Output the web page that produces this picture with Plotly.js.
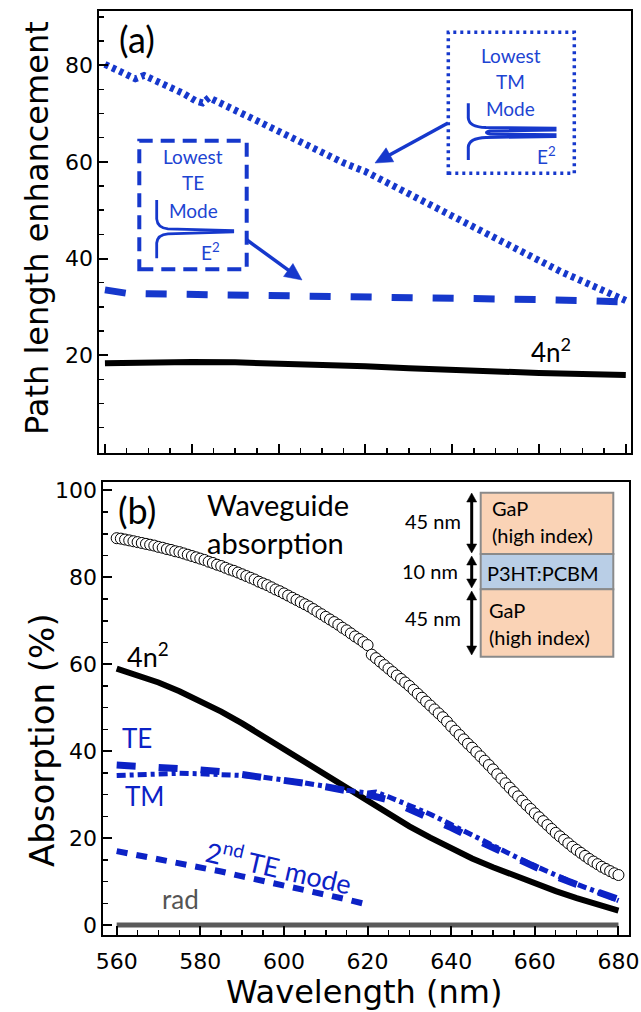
<!DOCTYPE html>
<html><head><meta charset="utf-8">
<script src="https://cdn.plot.ly/plotly-3.0.1.min.js"></script>
<style>html,body{margin:0;padding:0;background:#fff}#g{width:641px;height:1012px}</style>
</head><body><div id="g"></div>
<script>
// ---------- Panel (a): path length enhancement ----------
const wlA_4n2 = [560,570,580,590,600,610,620,630,640,650,660,670,680];
const pe_4n2  = [18.3,18.5,18.6,18.5,18.3,18.0,17.7,17.3,16.9,16.6,16.3,16.1,15.9];

const wlA_TE = [560,562,565,570,580,590,600,610,620,630,640,650,660,670,680];
const pe_TE  = [33.5,33.3,32.8,32.7,32.6,32.4,32.2,32.0,31.9,31.8,31.7,31.6,31.5,31.3,31.0];

const wlA_TM = [560,562,565,567,569,572,575,578,581,582.5,584,587,590,595,600,605,610,615,620,625,630,635,640,645,650,655,660,665,670,675,680];
const pe_TM  = [80.2,79.4,78.0,77.2,77.9,76.7,75.5,74.2,72.6,72.2,73.3,72.0,70.7,68.3,66.0,63.8,61.8,59.8,58.0,55.7,53.3,51.0,48.6,46.2,43.8,41.6,39.4,37.3,35.3,33.4,31.3];

const yTicksA = [20,40,60,80];

// ---------- Panel (b): absorption ----------
const wlB_wg = [560,561,562,563,564,565,566,567,568,569,570,571,572,573,574,575,576,577,578,579,
  580,581,582,583,584,585,586,587,588,589,590,591,592,593,594,595,596,597,598,599,
  600,601,602,603,604,605,606,607,608,609,610,611,612,613,614,615,616,617,618,619,
  620,621,622,623,624,625,626,627,628,629,630,631,632,633,634,635,636,637,638,639,
  640,641,642,643,644,645,646,647,648,649,650,651,652,653,654,655,656,657,658,659,
  660,661,662,663,664,665,666,667,668,669,670,671,672,673,674,675,676,677,678,679,680];
const abs_wg = [89.0,88.9,88.7,88.5,88.3,88.1,87.9,87.7,87.5,87.3,87.0,86.8,86.5,86.3,86.0,85.8,85.5,85.2,84.9,84.6,
  84.3,84.0,83.6,83.3,82.9,82.6,82.2,81.8,81.5,81.1,80.7,80.3,79.9,79.5,79.0,78.6,78.2,77.7,77.2,76.8,
  76.3,75.8,75.3,74.8,74.3,73.8,73.3,72.7,72.1,71.5,70.9,70.3,69.7,69.1,68.4,67.8,67.1,66.4,65.8,65.1,
  64.4,62.2,61.4,60.6,59.8,59.0,58.2,57.4,56.6,55.8,55.0,54.1,53.2,52.3,51.4,50.5,49.6,48.7,47.8,46.8,
  45.7,44.7,43.7,42.7,41.7,40.8,39.8,38.8,37.8,36.8,35.8,34.7,33.7,32.6,31.6,30.6,29.6,28.6,27.6,26.7,
  25.7,24.8,23.9,23.0,22.1,21.2,20.4,19.6,18.8,18.0,17.3,16.6,15.9,15.2,14.6,14.0,13.4,12.9,12.4,11.9,11.5];

const wlB = [560,565,570,575,580,585,590,595,600,605,610,615,620,625,630,635,640,645,650,655,660,665,670,675,680];
const abs_4n2 = [59.0,57.4,55.8,53.8,51.6,49.1,46.4,43.4,40.4,37.4,34.4,31.4,28.4,25.5,22.7,20.1,17.6,15.3,13.3,11.4,9.6,7.8,6.2,4.7,3.3];
const abs_TE  = [36.8,36.6,36.4,36.1,35.7,35.3,34.7,34.1,33.3,32.6,31.8,31.0,30.0,28.8,26.8,24.7,22.4,20.0,17.7,15.5,13.3,11.2,9.3,7.6,5.9];

const wlB_TM = [560,565,570,575,580,585,590,595,600,605,610,615,620,622,625,630,635,640,645,650,655,660,665,670,675,680];
const abs_TM = [34.4,34.6,34.8,34.9,34.8,34.7,34.4,34.0,33.4,32.7,31.9,31.0,30.4,30.6,29.5,27.6,25.5,23.1,20.6,18.2,15.9,13.6,11.4,9.4,7.6,5.6];

const wlB_TE2 = [560,565,570,575,580,585,590,595,600,605,610,615,620];
const abs_TE2 = [17.0,16.1,15.2,14.2,13.3,12.3,11.2,10.2,9.1,8.1,7.0,5.9,4.7];

const wlB_rad = [560,620,680];
const abs_rad = [0,0,0];

// ---------- geometry helpers (pixel -> paper) ----------
const W = 641, H = 1012;
const X = x => x / W;
const Y = y => 1 - y / H;
const path = pts => pts.map(p => (p[0] + ' ' + X(p[1]) + ',' + Y(p[2]))).join(' ');

const blueA = '#1638cc', blueB = '#0c22c6', blueT = '#1d44d2';
const AX = 'DejaVu Sans', TX = 'Lato';

const traces = [
  {x: wlA_4n2, y: pe_4n2, xaxis:'x', yaxis:'y', mode:'lines', line:{color:'#000', width:6}},
  {x: wlA_TE, y: pe_TE, xaxis:'x', yaxis:'y', mode:'lines', line:{color:blueA, width:7, dash:'21px,20px'}},
  {x: wlA_TM, y: pe_TM, xaxis:'x', yaxis:'y', mode:'lines', line:{color:blueA, width:7, dash:'4px,4px'}},

  {x: wlB_rad, y: abs_rad, xaxis:'x2', yaxis:'y2', mode:'lines', line:{color:'#5a5a5a', width:5}},
  {x: wlB_TE2, y: abs_TE2, xaxis:'x2', yaxis:'y2', mode:'lines', line:{color:blueB, width:6, dash:'11px,9px'}},
  {x: wlB, y: abs_4n2, xaxis:'x2', yaxis:'y2', mode:'lines', line:{color:'#000', width:6}},
  {x: wlB, y: abs_TE, xaxis:'x2', yaxis:'y2', mode:'lines', line:{color:blueB, width:7, dash:'19px,23px'}},
  {x: wlB_TM, y: abs_TM, xaxis:'x2', yaxis:'y2', mode:'lines', line:{color:blueB, width:5, dash:'9px,4px,4px,4px'}},
  {x: wlB_wg, y: abs_wg, xaxis:'x2', yaxis:'y2', mode:'markers',
   marker:{symbol:'circle', size:11, color:'#fff', line:{color:'#000', width:1}}}
];

const axCommon = {showline:true, linecolor:'#000', linewidth:2, mirror:true, ticks:'inside',
  tickcolor:'#000', tickwidth:2, ticklen:9, showgrid:false, zeroline:false,
  tickfont:{family:AX, size:22, color:'#000'},
  minor:{ticks:'inside', dtick:5, ticklen:5, tickwidth:1.5, tickcolor:'#000', showgrid:false}};

const layout = {
  width: W, height: H, margin:{l:0,r:0,t:0,b:0}, showlegend:false,
  paper_bgcolor:'#fff', plot_bgcolor:'#fff',
  xaxis: Object.assign({}, axCommon, {domain:[X(99.3), X(631)], range:[558.7, 681.2], anchor:'y',
    tickmode:'linear', tick0:560, dtick:20, showticklabels:false}),
  yaxis: Object.assign({}, axCommon, {domain:[Y(452.7), Y(10.7)], range:[-0.2, 91.3], anchor:'x',
    tickmode:'array', tickvals:yTicksA}),
  xaxis2: Object.assign({}, axCommon, {domain:[X(103.3), X(628.5)], range:[556.8, 682.4], anchor:'y2',
    tickmode:'linear', tick0:560, dtick:20, ticklabelstandoff:6}),
  yaxis2: Object.assign({}, axCommon, {domain:[Y(935), Y(481.7)], range:[-2.3, 102], anchor:'x2',
    tickmode:'linear', tick0:0, dtick:20}),
  shapes: [
    // TE inset box (dashed)
    {type:'rect', xref:'paper', yref:'paper', x0:X(139.3), x1:X(246.7), y0:Y(269.3), y1:Y(140.7),
     line:{color:blueA, width:4, dash:'14px,8px'}},
    // TM inset box (dotted)
    {type:'rect', xref:'paper', yref:'paper', x0:X(448.3), x1:X(574.3), y0:Y(173.3), y1:Y(32.3),
     line:{color:blueA, width:3.5, dash:'3px,4px'}},
    // TE mode profile icon
    {type:'path', xref:'paper', yref:'paper', line:{color:blueA, width:2.8},
     path: path([['M',156.7,200],['L',156.7,219],['Q',157.5,228],['',168,228.8],['L',232.7,230.6],
                 ['L',232.7,232],['L',168,233.8],['Q',157.5,234.6],['',156.7,243],['L',156.7,258.3]])},
    // TM mode profile icon
    {type:'path', xref:'paper', yref:'paper', line:{color:blueA, width:3},
     path: path([['M',468.3,103.3],['L',468.3,118],['Q',469,127],['',486,127.6],['L',555,128.2],
                 ['L',555,130],['L',490,131],['Q',483,132.5],['',490,134],['L',555,134.8],
                 ['L',555,136.6],['L',486,137.4],['Q',469,138],['',468.3,147],['L',468.3,160]])},
    // layer stack
    {type:'rect', xref:'paper', yref:'paper', x0:X(480.7), x1:X(613.3), y0:Y(554), y1:Y(492.7),
     fillcolor:'#fad3b6', line:{color:'#8a8a8a', width:2}},
    {type:'rect', xref:'paper', yref:'paper', x0:X(480.7), x1:X(613.3), y0:Y(589.3), y1:Y(554),
     fillcolor:'#b9cee6', line:{color:'#8a8a8a', width:2}},
    {type:'rect', xref:'paper', yref:'paper', x0:X(480.7), x1:X(613.3), y0:Y(656.7), y1:Y(589.3),
     fillcolor:'#fad3b6', line:{color:'#8a8a8a', width:2}}
  ],
  annotations: []
};

// arrows drawn as shapes: shaft line + filled triangular head(s)
function head(tipx, tipy, fromx, fromy, L, Wd, color) {
  const dx = tipx - fromx, dy = tipy - fromy, n = Math.hypot(dx, dy);
  const ux = dx / n, uy = dy / n, px = -uy, py = ux;
  const bx = tipx - L * ux, by = tipy - L * uy;
  return {type:'path', xref:'paper', yref:'paper', fillcolor:color, line:{color:color, width:0.5},
    path: path([['M',tipx,tipy],['L',bx + Wd * px, by + Wd * py],['L',bx - Wd * px, by - Wd * py]]) + ' Z'};
}
function arrowShapes(tx, ty, hx, hy, color, w, L, Wd, both) {
  const dx = hx - tx, dy = hy - ty, n = Math.hypot(dx, dy), ux = dx / n, uy = dy / n;
  const s = [];
  const ex = hx - (L - 1) * ux, ey = hy - (L - 1) * uy;
  const sx = both ? tx + (L - 1) * ux : tx, sy = both ? ty + (L - 1) * uy : ty;
  s.push({type:'line', xref:'paper', yref:'paper', x0:X(sx), y0:Y(sy), x1:X(ex), y1:Y(ey),
    line:{color:color, width:w}});
  s.push(head(hx, hy, tx, ty, L, Wd, color));
  if (both) s.push(head(tx, ty, hx, hy, L, Wd, color));
  return s;
}
layout.shapes.push(...arrowShapes(247, 240, 302, 280, blueA, 3.5, 17, 8, false));
layout.shapes.push(...arrowShapes(448, 123, 375, 163, blueA, 3.5, 17, 8, false));
layout.shapes.push(...arrowShapes(471.7, 553, 471.7, 493, '#000', 3, 9, 5, true));
layout.shapes.push(...arrowShapes(471.7, 588, 471.7, 556, '#000', 3, 9, 5, true));
layout.shapes.push(...arrowShapes(471.7, 655, 471.7, 591, '#000', 3, 9, 5, true));

function txt(t, x, y, size, color, opts) {
  return Object.assign({text:t, xref:'paper', yref:'paper', x:X(x), y:Y(y), showarrow:false,
    xanchor:'center', yanchor:'middle', font:{family:TX, size:size, color:color}}, opts || {});
}

const A = layout.annotations;
// axis titles
A.push(txt('Path length enhancement', 37, 228, 32, '#000', {textangle:-90, font:{family:AX, size:32, color:'#000'}}));
A.push(txt('Absorption (%)', 42, 740, 34, '#000', {textangle:-90, font:{family:AX, size:34, color:'#000'}}));
A.push(txt('Wavelength (nm)', 364, 992, 32, '#000', {font:{family:AX, size:32, color:'#000'}}));
// panel (a)
A.push(txt('(a)', 137, 39, 36, '#000'));
A.push(txt('Lowest', 511, 55, 19, blueT));
A.push(txt('TM', 511, 82, 19, blueT));
A.push(txt('Mode', 511, 108.5, 19, blueT));
A.push(txt('E<sup>2</sup>', 546, 155, 19, blueT));
A.push(txt('Lowest', 193.3, 156, 19, blueT));
A.push(txt('TE', 193.3, 183, 19, blueT));
A.push(txt('Mode', 193.3, 210, 19, blueT));
A.push(txt('E<sup>2</sup>', 210, 251, 19, blueT));
A.push(txt('4n<sup>2</sup>', 551, 350, 26, '#000'));
// panel (b)
A.push(txt('(b)', 137, 510, 36, '#000'));
A.push(txt('Waveguide', 205, 504, 29, '#000', {xanchor:'left'}));
A.push(txt('absorption', 205, 542, 29, '#000', {xanchor:'left'}));
A.push(txt('4n<sup>2</sup>', 148, 655, 27, '#000'));
A.push(txt('TE', 137, 738, 26, blueB));
A.push(txt('TM', 144.5, 796, 26, blueB));
A.push(txt('2<sup>nd</sup> TE mode', 279, 866, 27, blueB, {textangle:13}));
A.push(txt('rad', 180, 899, 26, '#555'));
A.push(txt('45 nm', 463, 521, 20, '#000', {xanchor:'right'}));
A.push(txt('10 nm', 460, 571, 20, '#000', {xanchor:'right'}));
A.push(txt('45 nm', 463, 618, 20, '#000', {xanchor:'right'}));
A.push(txt('GaP', 490, 508, 20, '#000', {xanchor:'left'}));
A.push(txt('(high index)', 490, 535, 20, '#000', {xanchor:'left'}));
A.push(txt('P3HT:PCBM', 542.5, 573, 20, '#000'));
A.push(txt('GaP', 487, 610, 20, '#000', {xanchor:'left'}));
A.push(txt('(high index)', 487, 637, 20, '#000', {xanchor:'left'}));

Plotly.newPlot('g', traces, layout, {staticPlot:true, displayModeBar:false});
</script>
</body></html>
